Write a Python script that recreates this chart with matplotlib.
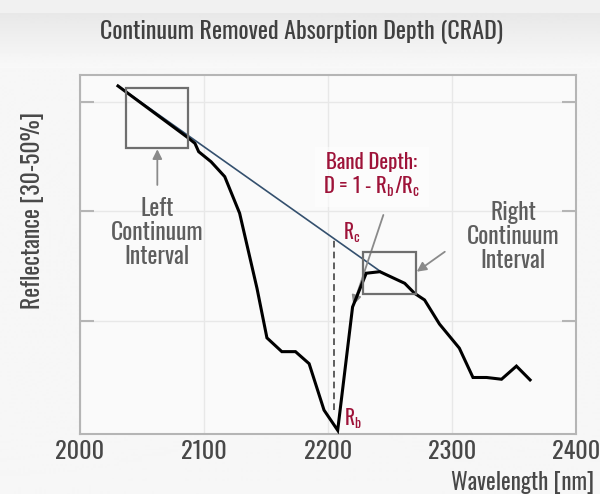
import numpy as np
import matplotlib.pyplot as plt
from matplotlib.patches import Rectangle

# --- spectrum and continuum ---
wavelength = [2031, 2088, 2093, 2096, 2106, 2117, 2129, 2143, 2151, 2163, 2174,
              2185, 2197, 2208, 2220, 2231, 2242, 2262, 2270, 2278, 2290, 2306,
              2317, 2328, 2340, 2352, 2363]
reflectance = [45.73, 43.34, 43.11, 42.73, 42.27, 41.59, 39.92, 36.49, 34.23, 33.60, 33.60,
               33.05, 30.93, 30.01, 35.64, 37.18, 37.25, 36.72, 36.26, 35.96, 34.86, 33.76,
               32.42, 32.42, 32.34, 32.94, 32.31]

continuum_x = [2031, 2244]
continuum_y = [45.73, 37.20]

band_center = 2205
band_bottom = 30.93
left_interval = [2037.7, 2087.7, 42.90, 45.64]
right_interval = [2228.7, 2271.2, 36.22, 38.16]

x_ticks = [2000, 2100, 2200, 2300, 2400]
y_ticks = [35, 40, 45]

plt.rcParams['font.family'] = ['Oswald', 'DejaVu Sans']
plt.rcParams['mathtext.fontset'] = 'custom'
plt.rcParams['mathtext.rm'] = 'Oswald'
plt.rcParams['mathtext.it'] = 'Oswald'

red = '#9e1339'
grey = '#5e5e5e'
dark = '#484848'

fig = plt.figure(figsize=(6, 4.94), dpi=100, facecolor='#f6f7f5')

# soft header band
bg = fig.add_axes([0, 0, 1, 1], zorder=-10)
grad = np.ones((494, 1))
grad[:14] = 0.945
grad[14:69, 0] = np.linspace(0.91, 0.975, 55)
grad[69:] = 0.968
bg.imshow(grad, aspect='auto', cmap='gray', vmin=0, vmax=1, extent=[0, 1, 0, 1])
bg.axis('off')

ax = fig.add_axes([79.5 / 600, 60 / 494, 496.5 / 600, 359 / 494])
ax.set_facecolor('#fafafa')
ax.set_xlim(2000, 2400)
ax.set_ylim(29.84, 46.23)

ax.set_xticks(x_ticks)
ax.set_yticks(y_ticks)
ax.set_yticklabels([])
ax.grid(True, color='#e8e8e8', lw=1.0)
ax.set_axisbelow(True)
ax.tick_params(axis='x', length=0, pad=4, labelsize=17.5, labelcolor=dark)
ax.tick_params(axis='y', direction='in', length=10, width=1.5, color='#b5b5b5',
               left=True, right=True)
for s in ax.spines.values():
    s.set_color('#b5b5b5')
    s.set_linewidth(1.5)

# continuum line and spectrum
ax.plot(continuum_x, continuum_y, color='#34506e', lw=1.2, zorder=3)
ax.plot(wavelength, reflectance, color='black', lw=2.2, zorder=4,
        solid_joinstyle='miter')

# band depth marker
rc = np.interp(band_center, continuum_x, continuum_y)
ax.plot([band_center, band_center], [band_bottom, rc], color='#444444',
        lw=1.2, ls=(0, (4, 2.5)), zorder=3)

# continuum intervals
for x0, x1, y0, y1 in (left_interval, right_interval):
    ax.add_patch(Rectangle((x0, y0), x1 - x0, y1 - y0, fill=False,
                           ec='#6e6e6e', lw=1.6, zorder=5))

arrow = dict(arrowstyle='-|>', color='#8a8a8a', lw=1.3, mutation_scale=14,
             shrinkA=0, shrinkB=0)
ax.annotate('', xy=(2062.7, 42.84), xytext=(2062.7, 41.21), arrowprops=arrow)
ax.annotate('', xy=(2271.7, 37.25), xytext=(2294.3, 38.16), arrowprops=arrow)
ax.annotate('', xy=(2220.6, 35.73), xytext=(2244.8, 39.84), arrowprops=arrow)

ax.text(2062.2, 39.02, 'Left\nContinuum\nInterval', ha='center', va='center',
        fontsize=17, color=grey, linespacing=1.05)
ax.text(2349.3, 38.84, 'Right\nContinuum\nInterval', ha='center', va='center',
        fontsize=17, color=grey, linespacing=1.05)
ax.text(2235.5, 41.64, 'Band Depth:\nD = 1 - R$_b$/R$_c$', ha='center', va='center',
        fontsize=15, color=red, linespacing=1.1,
        bbox=dict(boxstyle='square,pad=0.4', fc='white', ec='none', alpha=0.55))
ax.text(2219.3, 39.02, 'R$_c$', ha='center', va='center', fontsize=14, color=red)
ax.text(2220.1, 30.53, 'R$_b$', ha='center', va='center', fontsize=14, color=red)

fig.text(302 / 600, 1 - 32 / 494, 'Continuum Removed Absorption Depth (CRAD)',
         ha='center', va='center', fontsize=17.3, color='#404040')
fig.text(33 / 600, 1 - 210 / 494, 'Reflectance [30-50%]', rotation=90,
         ha='center', va='center', fontsize=17, color=dark)
fig.text(594 / 600, 1 - 482 / 494, 'Wavelength [nm]', ha='right', va='center',
         fontsize=16.5, color=dark)

fig.savefig('out.png', dpi=100, facecolor=fig.get_facecolor())
plt.close()
